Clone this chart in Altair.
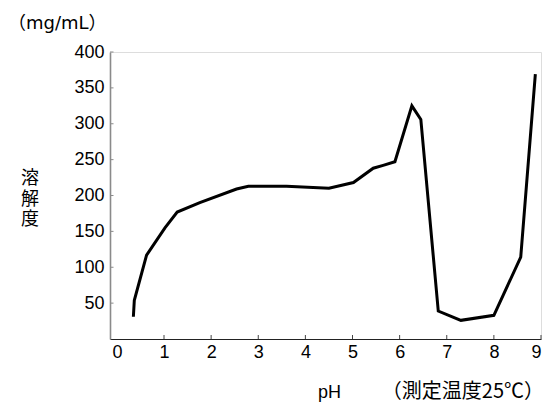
import altair as alt
import pandas as pd

ph = [0.35, 0.37, 0.63, 1.02, 1.28, 1.76, 2.54, 2.79, 3.6, 4.5, 5.02, 5.44,
      5.65, 5.9, 6.26, 6.45, 6.82, 7.3, 8.0, 8.57, 8.88]
solubility = [31, 54, 117, 155, 177, 190, 209, 213, 213, 210, 218, 238,
              242, 247, 325, 306, 39, 26, 33, 114, 369]
x_ticks = [0, 1, 2, 3, 4, 5, 6, 7, 8, 9]
y_ticks = [50, 100, 150, 200, 250, 300, 350, 400]
y_title_chars = ["溶", "解", "度"]

LATIN = "Liberation Sans, Arial, Noto Sans CJK JP"
WIDE = "DejaVu Sans, Noto Sans CJK JP"
CJK = "Noto Sans CJK JP"

W, H = 431, 287

df = pd.DataFrame({"ph": ph, "sol": solubility})
xs = alt.Scale(domain=[-0.146, 9], nice=False, zero=False)
ys = alt.Scale(domain=[0, 400], nice=False)

line = alt.Chart(df).mark_line(color="black", strokeWidth=3, strokeJoin="miter").encode(
    x=alt.X("ph:Q", scale=xs, title=None,
            axis=alt.Axis(values=x_ticks, ticks=False, grid=False, domainColor="#222",
                          domainWidth=1.2, labelFont=LATIN, labelFontSize=18,
                          labelColor="black", labelPadding=4, format="d")),
    y=alt.Y("sol:Q", scale=ys, title=None,
            axis=alt.Axis(values=y_ticks, ticks=False, grid=False, domainColor="#8a8a8a",
                          domainWidth=1.6, labelFont=LATIN, labelFontSize=18,
                          labelColor="black", labelPadding=6, format="d")),
)

ytick_df = pd.DataFrame({"v": y_ticks})
ytick = alt.Chart(ytick_df).mark_rule(color="#8a8a8a", strokeWidth=1).encode(
    y=alt.Y("v:Q", scale=ys), x=alt.value(0), x2=alt.value(3.5))

xtick_df = pd.DataFrame({"v": x_ticks[1:]})
xtick = alt.Chart(xtick_df).mark_rule(color="#444", strokeWidth=1).encode(
    x=alt.X("v:Q", scale=xs), y=alt.value(H), y2=alt.value(H - 4))

one = alt.Data(values=[{}])


def label(txt, x, y, font, size, align="left"):
    return alt.Chart(one).mark_text(
        align=align, baseline="alphabetic", font=font, fontSize=size, color="black"
    ).encode(x=alt.value(x), y=alt.value(y), text=alt.value(txt))


unit = label("（mg/mL）", -102, -23, WIDE, 18)
ylab = [label(c, -80, 132 + 20.5 * i, CJK, 18, align="center")
        for i, c in enumerate(y_title_chars)]
xlab = label("pH", 208, 346, LATIN, 18)
note = label("（測定温度25℃）", 434, 346, CJK, 20, align="right")

chart = alt.layer(line, ytick, xtick, unit, *ylab, xlab, note).properties(
    width=W, height=H,
    padding={"left": 102, "top": 44, "right": 4, "bottom": 64},
    autosize=alt.AutoSizeParams(type="none"),
).configure_view(stroke=None).configure(background="white")

chart.save("out.html", embed_options={"renderer": "svg", "actions": False})
